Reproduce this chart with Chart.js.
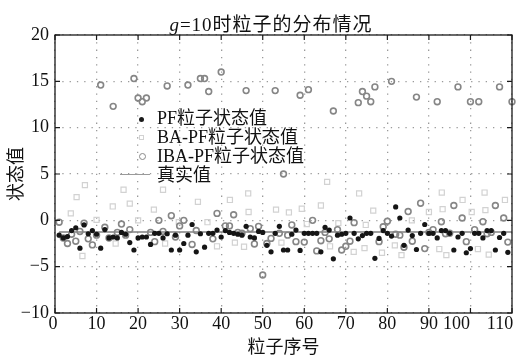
<!DOCTYPE html>
<html>
<head>
<meta charset="utf-8">
<script src="https://cdn.jsdelivr.net/npm/chart.js@4.4.0/dist/chart.umd.min.js"></script>
<style>
  body { margin: 0; background: #fff; }
  #wrap { position: relative; width: 519px; height: 357px; }
  .serif { font-family: "Liberation Serif", "Noto Sans CJK SC", serif; color: #111; }
  #title { position: absolute; left: 0; top: 9px; width: 542px; text-align: center; font-size: 19px; letter-spacing: 1px; }
  .lg-row { position: absolute; left: 157px; font-size: 18px; line-height: 19px; white-space: nowrap; }
  .mk { position: absolute; box-sizing: border-box; }
</style>
</head>
<body>
<div id="wrap">
  <canvas id="chart" width="519" height="357"></canvas>
  <div id="title" class="serif"><i>g</i>=10时粒子的分布情况</div>

  <!-- legend inside plot area -->
  <span class="mk" style="left:138.5px;top:116.5px;width:5px;height:5px;border-radius:50%;background:#1a1a1a"></span>
  <div class="lg-row serif" style="top:109px">PF粒子状态值</div>
  <span class="mk" style="left:138.5px;top:135px;width:5px;height:5px;border:1.2px solid #d2d2d2"></span>
  <div class="lg-row serif" style="top:128px">BA-PF粒子状态值</div>
  <span class="mk" style="left:138.5px;top:153px;width:7px;height:7px;border-radius:50%;border:1.6px solid #888"></span>
  <div class="lg-row serif" style="top:147px">IBA-PF粒子状态值</div>
  <span class="mk" style="left:120px;top:173.5px;width:30px;height:1.5px;background:#9a9a9a"></span>
  <div class="lg-row serif" style="top:165.5px">真实值</div>
</div>

<script>
// ============================================================
// DATA
// ============================================================
const xMin = 0, xMax = 110, xStep = 10;
const yMin = -10, yMax = 20, yStep = 5;

// PF particles, one value per particle index 1..110
const pfValues = [
  -1.6, -1.9, -1.75, -1.1, -0.8, -3.0, -0.5, -1.45, -1.1, -1.5,
  -3.0, -1.0, -1.9, -1.8, -1.9, -1.3, -1.5, -2.4, -3.2, -1.9,
  -1.8, -1.8, -2.6, -1.4, -1.4, -1.9, -1.45, -3.2, -1.6, -3.2,
  -2.5, -1.6, -0.45, -3.4, -1.45, -2.9, -1.4, -1.4, -1.05, -1.8,
  -1.1, -1.3, -1.4, -1.5, -1.6, -0.65, -1.8, -1.9, -1.2, -1.3,
  -2.7, -3.4, -1.4, -0.65, -3.2, -3.2, -1.5, -1.05, -3.25, -1.4,
  -1.4, -1.4, -1.4, -3.4, -0.75, -1.05, -4.15, -1.6, -1.5, -1.4,
  0.25, -1.4, -2.0, -1.65, -1.4, -1.4, -4.1, -1.95, -1.1, -1.4,
  -1.7, 1.45, 0.25, -2.7, -1.05, -1.65, -3.15, -1.4, -0.45, -1.4,
  -1.4, -1.9, -1.1, -1.1, -1.4, -3.2, -1.8, -1.4, -3.5, -3.05,
  -1.4, -1.4, -1.9, -1.1, -1.1, -3.2, -1.85, -1.4, -3.45, null
];

// IBA-PF particles, one value per particle index 1..110
const ibaValues = [
  -0.2, -1.9, -2.5, -1.5, -2.25, -1.2, -0.3, -2.0, -2.65, -1.6,
  14.6, -0.75, -1.9, 12.3, -1.3, -0.4, -1.6, -1.0, 15.3, 13.2,
  12.8, 13.2, -1.3, -2.3, 0.0, -1.2, 14.5, 0.5, -1.8, -0.6,
  0.0, 14.6, -2.6, -1.1, 15.3, 15.3, 13.9, -2.0, 0.75, 16.0,
  -0.6, -0.6, 0.6, -1.3, -1.4, 14.0, -0.9, -2.55, -0.65, -5.9,
  -2.5, -1.95, 14.0, -1.4, 5.0, -1.6, -0.5, -2.3, 13.5, -2.35,
  14.1, 0.0, -3.3, -2.2, -1.3, -2.0, 11.8, -1.0, -3.2, -2.8,
  -2.25, -0.25, 12.7, 13.9, 13.4, 12.8, 14.4, -2.3, -0.7, -0.1,
  15.0, -1.5, -1.6, -2.9, 0.95, -2.25, 13.3, 1.85, -3.05, -1.3,
  -1.0, 12.8, -0.15, -1.45, -1.4, 1.6, 14.4, 0.25, -2.3, 12.8,
  -1.0, 12.8, -0.15, -1.45, -1.3, 1.6, 14.4, 0.25, -2.35, 12.8
];

// BA-PF particles that can be seen (position, value)
const baIndex = [
  3.8, 5.2, 6.6, 7.2, 10, 13.9, 14.6, 16.5, 18, 20,
  23.8, 26, 26.5, 29.8, 34.4, 36.7, 39, 42.1, 43.3, 45.5,
  46.5, 46.6, 53.2, 54.5, 56.3, 59.4, 60.6, 64, 65.5, 66.2,
  68.2, 71.9, 73.2, 74.5, 74.8, 76.6, 78.7, 81.8, 83.4, 85.9,
  90, 92.5, 93.1, 93.3, 94.2, 98.1, 100.3, 101.8, 103.4, 103.6,
  104.4, 108.3
];
const baValues = [
  0.75, 2.5, -3.85, 3.8, 0.05, 1.5, -2.5, 3.3, 1.8, 0,
  1.15, 3.3, -2.5, -0.2, 2.0, -0.2, -2.8, 2.2, -2.4, -2.85,
  2.9, 0.9, 1.15, -2.4, 0.85, 1.25, -0.4, 1.6, 4.15, -2.8,
  -0.3, -3.4, 2.9, -3.0, -0.5, 1.05, -3.5, -2.7, -3.75, 0.0,
  0.9, -3.1, 3.0, 1.2, -3.75, 2.2, 0.9, -3.1, 3.0, 1.1,
  -3.7, 2.2
];

// true state
const trueValue = -1.25;
const trueRange = [1, 110];

// x tick labels that sit left of their tick in the original
const xLabelShift = { '0': -2, '100': -14, '110': -12 };

// ============================================================
// CHART
// ============================================================
const FONT = '"Liberation Serif", "Noto Sans CJK SC", serif';
const toPts = vals => vals.map((v, i) => ({ x: i + 1, y: v }));

// box + inward ticks, like matlab "box on"
const framePlugin = {
  id: 'frame',
  afterDraw(chart) {
    const { ctx, chartArea: a, scales: { x, y } } = chart;
    ctx.save();
    ctx.strokeStyle = '#1a1a1a';
    ctx.lineWidth = 1.3;
    ctx.strokeRect(a.left, a.top, a.right - a.left, a.bottom - a.top);
    ctx.lineWidth = 1.2;
    ctx.beginPath();
    for (let v = xMin; v <= xMax; v += xStep) {
      const px = x.getPixelForValue(v);
      ctx.moveTo(px, a.bottom); ctx.lineTo(px, a.bottom - 5);
      ctx.moveTo(px, a.top);    ctx.lineTo(px, a.top + 5);
    }
    for (let v = yMin; v <= yMax; v += yStep) {
      const py = y.getPixelForValue(v);
      ctx.moveTo(a.left, py);  ctx.lineTo(a.left + 5, py);
      ctx.moveTo(a.right, py); ctx.lineTo(a.right - 5, py);
    }
    ctx.stroke();
    ctx.restore();
  }
};

// nudge a few x tick labels
const labelShiftPlugin = {
  id: 'labelShift',
  beforeDraw(chart) {
    const items = chart.scales.x.getLabelItems();
    if (items._shifted) return;
    items.forEach(it => {
      const d = xLabelShift[String(it.label)];
      if (d && it.options && it.options.translation) it.options.translation[0] += d;
    });
    items._shifted = true;
  }
};

new Chart(document.getElementById('chart'), {
  type: 'scatter',
  data: {
    datasets: [
      {
        label: 'PF粒子状态值',
        data: toPts(pfValues),
        pointStyle: 'circle',
        pointRadius: 2.6,
        pointBorderWidth: 0,
        backgroundColor: '#151515',
        borderColor: '#151515',
        clip: false,
      },
      {
        label: 'IBA-PF粒子状态值',
        data: toPts(ibaValues),
        pointStyle: 'circle',
        pointRadius: 2.9,
        pointBorderWidth: 1.6,
        backgroundColor: 'rgba(255,255,255,0)',
        borderColor: '#868686',
        clip: false,
      },
      {
        label: '真实值',
        type: 'line',
        data: trueRange.map(v => ({ x: v, y: trueValue })),
        borderColor: '#808080',
        borderWidth: 1.5,
        pointRadius: 0,
        fill: false,
      },
      {
        label: 'BA-PF粒子状态值',
        data: baIndex.map((v, i) => ({ x: v, y: baValues[i] })),
        pointStyle: 'rect',
        pointRadius: 3.6,
        pointBorderWidth: 1.2,
        backgroundColor: 'rgba(255,255,255,0)',
        borderColor: '#d2d2d2',
        clip: false,
      },
    ]
  },
  options: {
    responsive: false,
    animation: false,
    layout: { padding: { top: 35, right: 7, left: 0, bottom: 0 } },
    plugins: {
      legend: { display: false },
      tooltip: { enabled: false },
    },
    scales: {
      x: {
        type: 'linear',
        min: xMin, max: xMax,
        ticks: { stepSize: xStep, color: '#111', font: { family: FONT, size: 18 }, padding: 0, maxRotation: 0 },
        grid: { color: '#9a9a9a', lineWidth: 1.3, drawTicks: false },
        border: { display: false, dash: [1.3, 6] },
        title: { display: true, text: '粒子序号', color: '#111', font: { family: FONT, size: 18, lineHeight: 1 }, padding: { top: 0, bottom: 0 } },
        afterFit(s) { s.height = 44; s.paddingLeft = 0; s.paddingRight = 0; },
      },
      y: {
        min: yMin, max: yMax,
        ticks: {
          stepSize: yStep, color: '#111', font: { family: FONT, size: 18 }, padding: 6,
          callback: v => String(v).replace('-', '−'),
        },
        grid: { color: '#9a9a9a', lineWidth: 1.3, drawTicks: false },
        border: { display: false, dash: [1.3, 6] },
        title: { display: true, text: '状态值', color: '#111', font: { family: FONT, size: 18 }, padding: { top: 6, bottom: 0 } },
        afterFit(s) { s.width = 55; s.paddingTop = 0; s.paddingBottom = 0; },
      }
    }
  },
  plugins: [framePlugin, labelShiftPlugin]
});
</script>
</body>
</html>
